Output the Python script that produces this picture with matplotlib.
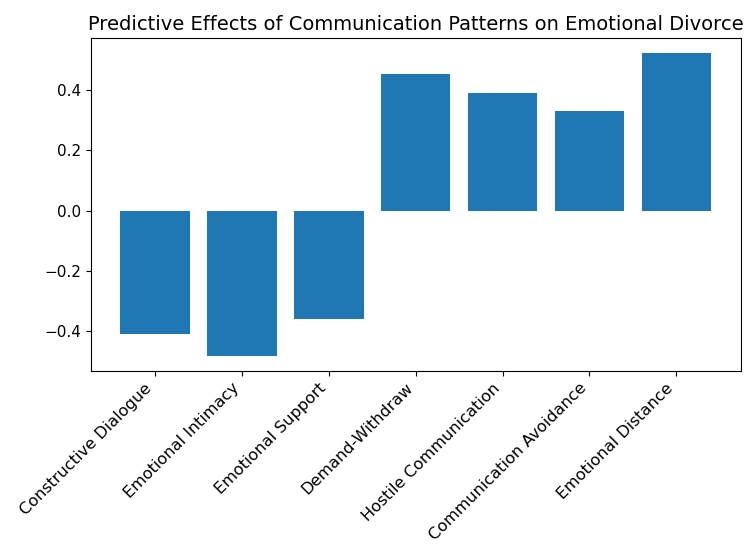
import numpy as np
import matplotlib
matplotlib.use('Agg')
import matplotlib.pyplot as plt

patterns = ['Constructive Dialogue', 'Emotional Intimacy', 'Emotional Support',
            'Demand-Withdraw', 'Hostile Communication', 'Communication Avoidance',
            'Emotional Distance']
effects = [-0.41, -0.48, -0.36, 0.45, 0.39, 0.33, 0.52]

fig = plt.figure(figsize=(7.53, 5.46), dpi=100)
ax = fig.add_axes([0.1205, 0.321, 0.863, 0.609])

ax.bar(patterns, effects, color='#1f77b4')
ax.set_title('Predictive Effects of Communication Patterns on Emotional Divorce', fontsize=14)
ax.tick_params(axis='y', labelsize=11)
ax.tick_params(axis='x', labelsize=11.6)
plt.setp(ax.get_xticklabels(), rotation=45, ha='right')

fig.savefig('out.png', dpi=100)
